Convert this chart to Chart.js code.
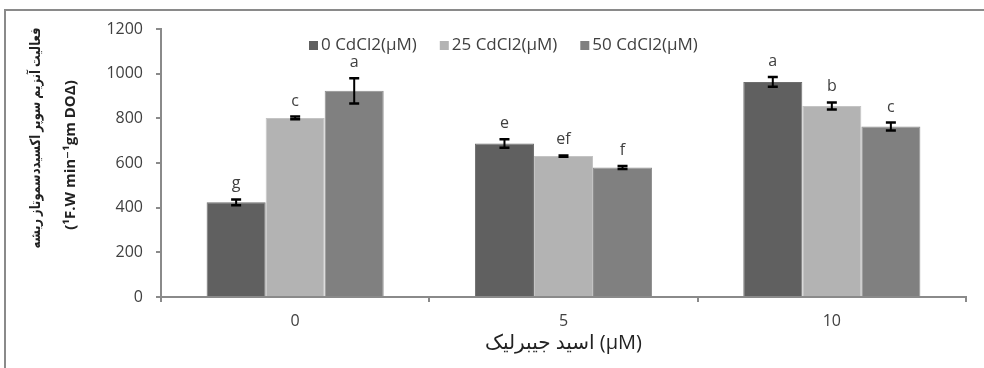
<!DOCTYPE html>
<html>
<head>
<meta charset="utf-8">
<script src="https://cdn.jsdelivr.net/npm/chart.js@4"></script>
<style>
  body { margin: 0; background: #fff; }
</style>
</head>
<body>
<canvas id="myChart" width="984" height="368"></canvas>
<script>
// data
let groups = ['0', '5', '10'];
let seriesNames = ['0 CdCl2(μM)', '25 CdCl2(μM)', '50 CdCl2(μM)'];
let cd0 = [424, 687, 963];
let cd25 = [802, 631, 855];
let cd50 = [923, 580, 763];
let err0 = [13, 19, 22];
let err25 = [6, 3, 16];
let err50 = [57, 7, 18];
let letters0 = ['g', 'e', 'a'];
let letters25 = ['c', 'ef', 'b'];
let letters50 = ['a', 'f', 'c'];
let yMax = 1200;
let yStep = 200;

let yTitle1 = 'فعالیت آنزیم سوپر اکسیددسموتاز ریشه';
let yTitle2 = '(¹F.W min⁻¹gm DOΔ)';
let xTitle = 'اسید جیبرلیک (μM)';

let fontFam = "'Open Sans', 'DejaVu Sans', sans-serif";
let textCol = '#404040';
let axisCol = '#8a8a8a';

// error bars + significance letters
const errorBars = {
    id: 'errorBars',
    afterDatasetsDraw(chart) {
        const ctx = chart.ctx;
        const y = chart.scales.y;
        chart.data.datasets.forEach((ds, i) => {
            const meta = chart.getDatasetMeta(i);
            meta.data.forEach((bar, j) => {
                const v = ds.data[j], e = ds.errors[j];
                const top = y.getPixelForValue(v + e);
                const bot = y.getPixelForValue(v - e);
                ctx.save();
                ctx.strokeStyle = '#000';
                ctx.lineWidth = 2;
                ctx.beginPath();
                ctx.moveTo(bar.x, top);
                ctx.lineTo(bar.x, bot);
                ctx.stroke();
                ctx.lineWidth = 2.5;
                ctx.beginPath();
                ctx.moveTo(bar.x - 5, top);
                ctx.lineTo(bar.x + 5, top);
                ctx.moveTo(bar.x - 5, bot);
                ctx.lineTo(bar.x + 5, bot);
                ctx.stroke();

                ctx.fillStyle = textCol;
                ctx.font = '16px ' + fontFam;
                ctx.textAlign = 'center';
                ctx.textBaseline = 'alphabetic';
                ctx.fillText(ds.letters[j], bar.x, top - 11);
                ctx.restore();
            });
        });
    }
};

// legend, y titles and outer frame
const decorations = {
    id: 'decorations',
    afterDraw(chart) {
        const ctx = chart.ctx;
        ctx.save();
        // outer frame
        ctx.strokeStyle = axisCol;
        ctx.lineWidth = 2;
        ctx.strokeRect(5, 10, 1100, 500);

        // legend
        ctx.font = '17px ' + fontFam;
        ctx.textBaseline = 'middle';
        ctx.textAlign = 'left';
        let lx = 309;
        const ly = 45;
        chart.data.datasets.forEach((ds) => {
            ctx.fillStyle = ds.backgroundColor;
            ctx.fillRect(lx, ly - 4, 9, 9);
            ctx.fillStyle = textCol;
            ctx.fillText(ds.label, lx + 12, ly);
            lx += 12 + ctx.measureText(ds.label).width + 23;
        });

        // y axis titles
        ctx.fillStyle = '#222';
        ctx.textAlign = 'center';
        ctx.translate(36, 138);
        ctx.rotate(-Math.PI / 2);
        ctx.font = 'bold 15px ' + fontFam;
        ctx.fillText(yTitle2, -17, 35);
        ctx.font = 'bold 14px ' + fontFam;
        const w1 = ctx.measureText(yTitle1).width;
        ctx.scale(221 / w1, 1);
        ctx.fillText(yTitle1, 0, 0);
        ctx.restore();
    }
};

new Chart(document.getElementById('myChart').getContext('2d'), {
    type: 'bar',
    data: {
        labels: groups,
        datasets: [{
            label: seriesNames[0],
            data: cd0,
            errors: err0,
            letters: letters0,
            backgroundColor: '#606060',
            borderColor: '#6e6e6e',
            borderWidth: 1
        }, {
            label: seriesNames[1],
            data: cd25,
            errors: err25,
            letters: letters25,
            backgroundColor: '#b3b3b3',
            borderColor: '#c4c4c4',
            borderWidth: 1
        }, {
            label: seriesNames[2],
            data: cd50,
            errors: err50,
            letters: letters50,
            backgroundColor: '#808080',
            borderColor: '#8e8e8e',
            borderWidth: 1
        }]
    },
    options: {
        responsive: false,
        animation: false,
        devicePixelRatio: 1,
        categoryPercentage: 0.66,
        barPercentage: 1.0,
        layout: { padding: { left: 0, top: 29, right: 18, bottom: 0 } },
        plugins: {
            legend: { display: false },
            tooltip: { enabled: false }
        },
        scales: {
            x: {
                afterFit: (s) => { s.height = 71; },
                grid: {
                    display: true,
                    drawOnChartArea: false,
                    offset: true,
                    tickLength: 5,
                    color: axisCol,
                    lineWidth: 2
                },
                border: { color: axisCol, width: 2 },
                ticks: {
                    color: textCol,
                    font: { size: 16, family: fontFam },
                    padding: 10
                },
                title: {
                    display: true,
                    text: xTitle,
                    color: '#222',
                    font: { size: 20, family: fontFam },
                    padding: { top: 0, bottom: 13 }
                }
            },
            y: {
                min: 0,
                max: yMax,
                afterFit: (s) => { s.width = 161; },
                grid: {
                    display: true,
                    drawOnChartArea: false,
                    tickLength: 5,
                    color: axisCol,
                    lineWidth: 2
                },
                border: { color: axisCol, width: 2 },
                ticks: {
                    stepSize: yStep,
                    color: textCol,
                    font: { size: 16, family: fontFam },
                    padding: 13,
                    callback: (v) => String(v)
                }
            }
        }
    },
    plugins: [errorBars, decorations]
});
</script>
</body>
</html>
